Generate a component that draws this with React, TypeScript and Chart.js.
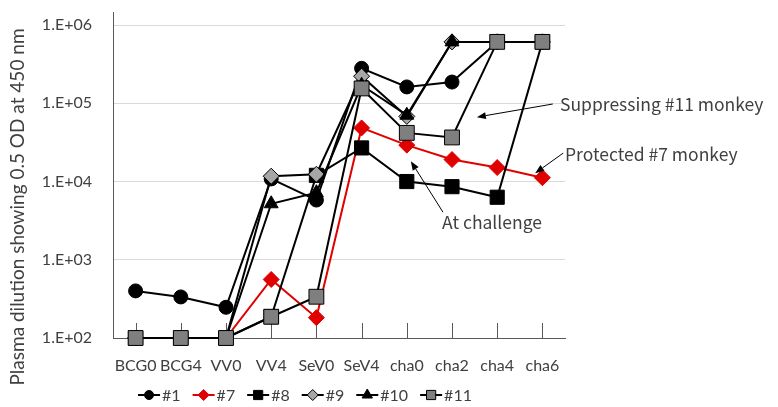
import React, { useEffect, useRef } from 'react';
import { Chart, registerables } from 'chart.js';

Chart.register(...registerables);

const categories = ['BCG0', 'BCG4', 'VV0', 'VV4', 'SeV0', 'SeV4', 'cha0', 'cha2', 'cha4', 'cha6'];
const seriesNames = ['#1', '#7', '#8', '#9', '#10', '#11'];
const values1 = [400, 335, 247, 10800, 5800, 280000, 162000, 187000, 610000, 610000];
const values7 = [100, 100, 100, 560, 182, 48500, 29200, 19100, 15100, 11200];
const values8 = [100, 100, 100, 187, 12000, 26900, 10000, 8600, 6300, 610000];
const values9 = [100, 100, 100, 11700, 12400, 222000, 68000, 610000, 610000, 610000];
const values10 = [100, 100, 100, 5200, 7200, 170000, 70500, 610000, 610000, 610000];
const values11 = [100, 100, 100, 187, 337, 155000, 41900, 36600, 610000, 610000];

const yTickValues = [1e2, 1e3, 1e4, 1e5, 1e6];
const yTickLabels = ['1.E+02', '1.E+03', '1.E+04', '1.E+05', '1.E+06'];
const yMin = 100;
const yMax = 1.47e6;
const yTitle = 'Plasma dilution showing 0.5 OD at 450 nm';

const noteTexts = ['Suppressing #11 monkey', 'Protected #7 monkey', 'At challenge'];
const noteTextAt = [[9.39, 98000], [9.5, 22400], [6.78, 3020]];
const noteArrowFrom = [[9.23, 98000], [9.46, 23100], [6.8, 4060]];
const noteArrowTo = [[7.55, 66600], [8.84, 12800], [6.09, 18200]];

const AXIS_FONT = 'Lato, "Noto Sans", sans-serif';
const NOTE_FONT = '"Noto Sans CJK JP", "Noto Sans", sans-serif';
const TEXT_COLOR = '#404040';

type Style = { color: string; fill: string; border: string; shape: string; radius: number; legendRadius: number };
const styles: Style[] = [
  { color: '#000000', fill: '#000000', border: '#000000', shape: 'circle', radius: 7, legendRadius: 4.5 },
  { color: '#e00000', fill: '#e00000', border: '#e00000', shape: 'rectRot', radius: 8, legendRadius: 5.5 },
  { color: '#000000', fill: '#000000', border: '#000000', shape: 'rect', radius: 10, legendRadius: 6.5 },
  { color: '#000000', fill: '#a6a6a6', border: '#000000', shape: 'rectRot', radius: 8, legendRadius: 5.5 },
  { color: '#000000', fill: '#000000', border: '#000000', shape: 'triangle', radius: 8, legendRadius: 6 },
  { color: '#000000', fill: '#7f7f7f', border: '#000000', shape: 'rect', radius: 10.5, legendRadius: 6.5 },
];
const allValues = [values1, values7, values8, values9, values10, values11];

function drawMarker(ctx: CanvasRenderingContext2D, s: Style, x: number, y: number, r: number) {
  ctx.beginPath();
  if (s.shape === 'circle') {
    ctx.arc(x, y, r, 0, Math.PI * 2);
  } else if (s.shape === 'rect') {
    const h = r * Math.SQRT1_2;
    ctx.rect(x - h, y - h, 2 * h, 2 * h);
  } else if (s.shape === 'rectRot') {
    ctx.moveTo(x - r, y);
    ctx.lineTo(x, y - r);
    ctx.lineTo(x + r, y);
    ctx.lineTo(x, y + r);
    ctx.closePath();
  } else if (s.shape === 'triangle') {
    ctx.moveTo(x, y - r);
    ctx.lineTo(x + r * 0.866, y + r * 0.5);
    ctx.lineTo(x - r * 0.866, y + r * 0.5);
    ctx.closePath();
  }
  ctx.fillStyle = s.fill;
  ctx.fill();
  ctx.lineWidth = 1;
  ctx.strokeStyle = s.border;
  ctx.stroke();
}

function drawArrow(ctx: CanvasRenderingContext2D, x1: number, y1: number, x2: number, y2: number) {
  const ang = Math.atan2(y2 - y1, x2 - x1);
  const len = 9;
  const wid = 3.5;
  const bx = x2 - Math.cos(ang) * len;
  const by = y2 - Math.sin(ang) * len;
  ctx.beginPath();
  ctx.moveTo(x1, y1);
  ctx.lineTo(bx, by);
  ctx.stroke();
  ctx.beginPath();
  ctx.moveTo(x2, y2);
  ctx.lineTo(bx + Math.sin(ang) * wid, by - Math.cos(ang) * wid);
  ctx.lineTo(bx - Math.sin(ang) * wid, by + Math.cos(ang) * wid);
  ctx.closePath();
  ctx.fill();
}

const extrasPlugin = {
  id: 'extras',
  beforeDatasetsDraw(chart: any) {
    const { ctx, chartArea, scales } = chart;
    const x = scales.x;
    ctx.save();
    ctx.strokeStyle = '#595959';
    ctx.lineWidth = 1;
    for (let i = 0; i < categories.length; i++) {
      const px = Math.round(x.getPixelForTick(i)) + 0.5;
      ctx.beginPath();
      ctx.moveTo(px, chartArea.bottom);
      ctx.lineTo(px, chartArea.bottom - 15);
      ctx.stroke();
    }
    ctx.restore();
  },
  afterDraw(chart: any) {
    const { ctx, chartArea, scales } = chart;
    const x = scales.x;
    const y = scales.y;
    ctx.save();
    // y axis title
    ctx.save();
    ctx.translate(18, (chartArea.top + chartArea.bottom) / 2 + 32);
    ctx.rotate(-Math.PI / 2);
    ctx.font = `19px ${AXIS_FONT}`;
    ctx.fillStyle = TEXT_COLOR;
    ctx.textAlign = 'center';
    ctx.textBaseline = 'middle';
    ctx.fillText(yTitle, 0, 0);
    ctx.restore();

    // annotations
    ctx.strokeStyle = '#000000';
    ctx.fillStyle = '#000000';
    ctx.lineWidth = 1;
    for (let i = 0; i < noteTexts.length; i++) {
      const [fx, fy] = noteArrowFrom[i];
      const [tx, ty] = noteArrowTo[i];
      drawArrow(ctx, x.getPixelForValue(fx), y.getPixelForValue(fy), x.getPixelForValue(tx), y.getPixelForValue(ty));
    }
    ctx.font = `17.5px ${NOTE_FONT}`;
    ctx.fillStyle = TEXT_COLOR;
    ctx.textAlign = 'left';
    ctx.textBaseline = 'middle';
    for (let i = 0; i < noteTexts.length; i++) {
      const [nx, ny] = noteTextAt[i];
      ctx.fillText(noteTexts[i], x.getPixelForValue(nx), y.getPixelForValue(ny));
    }

    // legend
    ctx.font = `16px ${AXIS_FONT}`;
    const lineW = 22;
    const gapLT = 2;
    const gapItem = 12;
    const widths = seriesNames.map((n) => ctx.measureText(n).width);
    const total = widths.reduce((a, w) => a + lineW + gapLT + w, 0) + gapItem * (seriesNames.length - 1);
    let lx = 305 - total / 2;
    const ly = 395;
    for (let i = 0; i < seriesNames.length; i++) {
      const s = styles[i];
      ctx.strokeStyle = s.color;
      ctx.lineWidth = 2;
      ctx.beginPath();
      ctx.moveTo(lx, ly);
      ctx.lineTo(lx + lineW, ly);
      ctx.stroke();
      drawMarker(ctx, s, lx + lineW / 2, ly, s.legendRadius);
      ctx.fillStyle = TEXT_COLOR;
      ctx.textAlign = 'left';
      ctx.textBaseline = 'middle';
      ctx.fillText(seriesNames[i], lx + lineW + gapLT, ly + 1);
      lx += lineW + gapLT + widths[i] + gapItem;
    }
    ctx.restore();
  },
};

export default function App() {
  const canvasRef = useRef<HTMLCanvasElement | null>(null);

  useEffect(() => {
    document.body.style.margin = '0';
    const canvas = canvasRef.current;
    if (!canvas) return;
    const datasets = seriesNames.map((name, i) => ({
      label: name,
      data: allValues[i],
      borderColor: styles[i].color,
      backgroundColor: styles[i].fill,
      borderWidth: 2,
      pointStyle: styles[i].shape,
      pointRadius: styles[i].radius,
      pointHoverRadius: styles[i].radius,
      pointBackgroundColor: styles[i].fill,
      pointBorderColor: styles[i].border,
      pointBorderWidth: 1,
      tension: 0,
      clip: false as any,
      order: seriesNames.length - i,
    }));
    const chart = new Chart(canvas, {
      type: 'line',
      data: { labels: categories, datasets },
      options: {
        responsive: false,
        animation: false,
        devicePixelRatio: 1,
        layout: { padding: { left: 0, right: 213, top: 12, bottom: 0 } },
        plugins: { legend: { display: false }, tooltip: { enabled: false } },
        scales: {
          x: {
            type: 'category',
            offset: true,
            grid: { display: false, drawTicks: false },
            border: { display: true, color: '#595959', width: 1 },
            ticks: {
              padding: 18,
              color: TEXT_COLOR,
              font: { family: AXIS_FONT, size: 16 },
              maxRotation: 0,
              autoSkip: false,
            },
            afterFit: (scale: any) => {
              scale.height = 69;
              scale.paddingLeft = 0;
              scale.paddingRight = 0;
            },
          },
          y: {
            type: 'logarithmic',
            min: yMin,
            max: yMax,
            grid: { color: '#d9d9d9', lineWidth: 1, drawTicks: false },
            border: { display: true, color: '#595959', width: 1 },
            ticks: {
              padding: 21,
              color: TEXT_COLOR,
              font: { family: AXIS_FONT, size: 16 },
              callback: (v: any) => {
                const idx = yTickValues.indexOf(Number(v));
                return idx >= 0 ? yTickLabels[idx] : '';
              },
            },
            afterBuildTicks: (scale: any) => {
              scale.ticks = yTickValues.map((v) => ({ value: v }));
            },
            afterFit: (scale: any) => {
              scale.width = 113;
              scale.paddingTop = 0;
              scale.paddingBottom = 0;
            },
          },
        },
      },
      plugins: [extrasPlugin],
    });
    return () => chart.destroy();
  }, []);

  return (
    <div style={{ width: 778, height: 407 }}>
      <canvas ref={canvasRef} width={778} height={407} style={{ display: 'block' }} />
    </div>
  );
}
